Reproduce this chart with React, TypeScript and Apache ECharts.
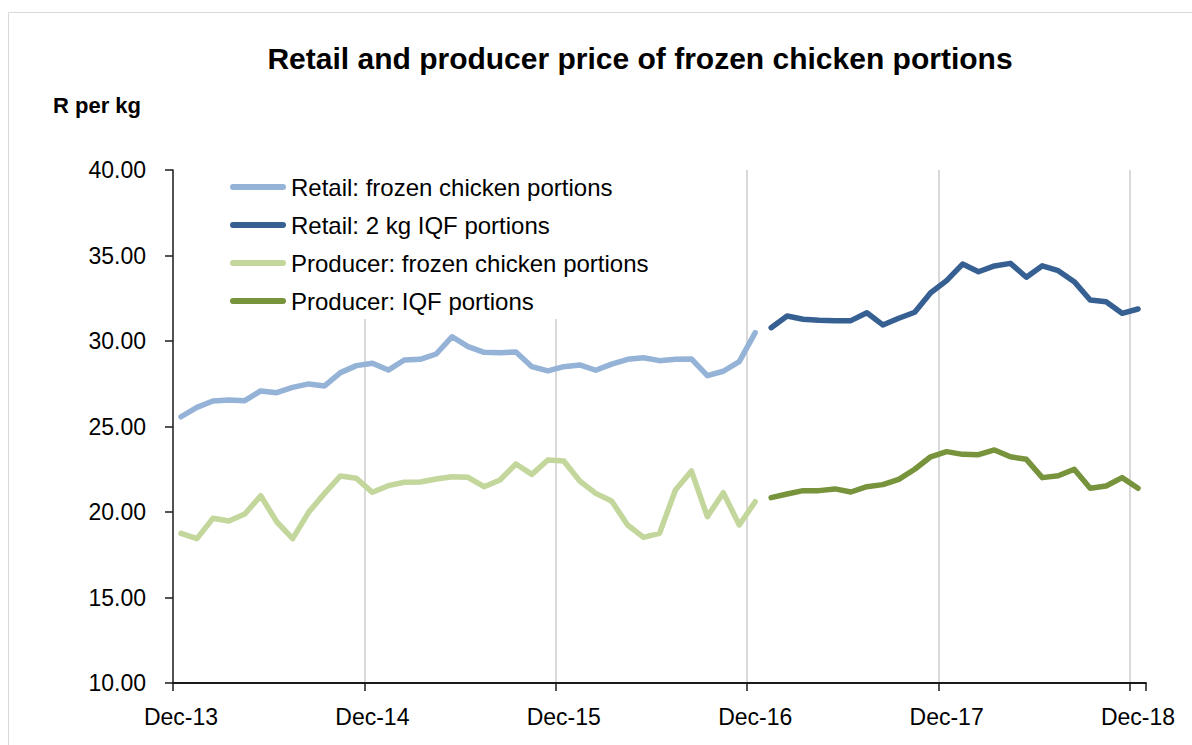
import React, { useEffect, useRef } from "react";
import * as echarts from "echarts";

const categories: string[] = [
  "Dec-13",
  "Jan-14", "Feb-14", "Mar-14", "Apr-14", "May-14", "Jun-14", "Jul-14", "Aug-14", "Sep-14", "Oct-14", "Nov-14", "Dec-14",
  "Jan-15", "Feb-15", "Mar-15", "Apr-15", "May-15", "Jun-15", "Jul-15", "Aug-15", "Sep-15", "Oct-15", "Nov-15", "Dec-15",
  "Jan-16", "Feb-16", "Mar-16", "Apr-16", "May-16", "Jun-16", "Jul-16", "Aug-16", "Sep-16", "Oct-16", "Nov-16", "Dec-16",
  "Jan-17", "Feb-17", "Mar-17", "Apr-17", "May-17", "Jun-17", "Jul-17", "Aug-17", "Sep-17", "Oct-17", "Nov-17", "Dec-17",
  "Jan-18", "Feb-18", "Mar-18", "Apr-18", "May-18", "Jun-18", "Jul-18", "Aug-18", "Sep-18", "Oct-18", "Nov-18", "Dec-18",
];

const tickLabels: string[] = ["Dec-13", "Dec-14", "Dec-15", "Dec-16", "Dec-17", "Dec-18"];

// Dec-13 .. Dec-16
const retailFrozen: number[] = [
  25.57, 26.12, 26.49, 26.55, 26.51, 27.08, 26.98, 27.29, 27.49, 27.37, 28.15, 28.56,
  28.7, 28.3, 28.89, 28.93, 29.24, 30.25, 29.67, 29.34, 29.32, 29.36, 28.5, 28.25,
  28.5, 28.6, 28.29, 28.65, 28.93, 29.02, 28.85, 28.93, 28.95, 27.97, 28.23, 28.79,
  30.49,
];

const producerFrozen: number[] = [
  18.75, 18.44, 19.63, 19.47, 19.88, 20.95, 19.43, 18.44, 19.98, 21.09, 22.11, 21.97,
  21.15, 21.54, 21.74, 21.75, 21.93, 22.06, 22.03, 21.48, 21.87, 22.81, 22.2, 23.04,
  22.98, 21.81, 21.09, 20.64, 19.24, 18.52, 18.75, 21.29, 22.4, 19.73, 21.13, 19.24,
  20.6,
];

// Jan-17 .. Dec-18
const retailIQF: number[] = [
  30.78, 31.46, 31.27, 31.21, 31.19, 31.19, 31.65, 30.94, 31.33, 31.68, 32.82, 33.53,
  34.5, 34.05, 34.39, 34.54, 33.73, 34.4, 34.11, 33.47, 32.4, 32.3, 31.62, 31.87,
];

const producerIQF: number[] = [
  20.84, 21.05, 21.25, 21.25, 21.35, 21.17, 21.48, 21.6, 21.91, 22.5, 23.23, 23.53,
  23.37, 23.35, 23.63, 23.23, 23.08, 22.01, 22.12, 22.5, 21.39, 21.52, 22.01, 21.39,
];

const seriesNames: string[] = [
  "Retail: frozen chicken portions",
  "Retail: 2 kg IQF portions",
  "Producer: frozen chicken portions",
  "Producer: IQF portions",
];

const colors: string[] = ["#95B3D7", "#376092", "#C3D69B", "#77933C"];

const FONT = "Liberation Sans, Arial, sans-serif";
const CAPSULE = "path://M3,0 L53,0 A3,3 0 0 1 53,6 L3,6 A3,3 0 0 1 3,0 Z";

function pairs(values: number[], startLabel: string): [string, number][] {
  const start = categories.indexOf(startLabel);
  return values.map((v, i) => [categories[start + i], v]);
}

export default function App() {
  const ref = useRef<HTMLDivElement>(null);

  useEffect(() => {
    if (!ref.current) return;
    const chart = echarts.init(ref.current, null, { renderer: "svg" });

    const data = [
      pairs(retailFrozen, "Dec-13"),
      pairs(retailIQF, "Jan-17"),
      pairs(producerFrozen, "Dec-13"),
      pairs(producerIQF, "Jan-17"),
    ];

    chart.setOption({
      animation: false,
      backgroundColor: "#ffffff",
      title: [
        {
          text: "Retail and producer price of frozen chicken portions",
          left: 640,
          top: 43,
          textAlign: "center",
          padding: 0,
          textStyle: { fontFamily: FONT, fontWeight: "bold", fontSize: 30, color: "#000000" },
        },
        {
          text: "R per kg",
          left: 53,
          top: 94,
          padding: 0,
          textStyle: { fontFamily: FONT, fontWeight: "bold", fontSize: 22, color: "#000000" },
        },
      ],
      graphic: [
        {
          type: "rect",
          silent: true,
          z: -10,
          shape: { x: 8.5, y: 12.5, width: 1300, height: 900 },
          style: { fill: "none", stroke: "#D9D9D9", lineWidth: 1 },
        },
      ],
      legend: {
        orient: "vertical",
        left: 225,
        top: 169,
        padding: [5, 10, 5, 5],
        backgroundColor: "#ffffff",
        itemWidth: 56,
        itemHeight: 6,
        itemGap: 12,
        icon: CAPSULE,
        data: seriesNames.map((name, i) => ({ name, itemStyle: { color: colors[i] } })),
        textStyle: { fontFamily: FONT, fontSize: 24, color: "#000000", lineHeight: 26 },
      },
      grid: { left: 173, right: 46, top: 170, bottom: 62, containLabel: false },
      xAxis: {
        type: "category",
        data: categories,
        boundaryGap: true,
        axisLine: { show: true, lineStyle: { color: "#1a1a1a", width: 1.8 } },
        axisTick: { show: true, interval: 11, length: 8, lineStyle: { color: "#1a1a1a", width: 1.5 } },
        axisLabel: {
          interval: 11,
          margin: 22,
          fontFamily: FONT,
          fontSize: 23,
          color: "#000000",
          formatter: (v: string) => (tickLabels.indexOf(v) >= 0 ? v : ""),
        },
        splitLine: {
          show: true,
          interval: 11,
          showMinLine: false,
          showMaxLine: false,
          lineStyle: { color: "#D9D9D9", width: 2 },
        },
      },
      yAxis: {
        type: "value",
        min: 10,
        max: 40,
        interval: 5,
        axisLine: { show: true, lineStyle: { color: "#1a1a1a", width: 1.5 } },
        axisTick: { show: true, length: 8, lineStyle: { color: "#1a1a1a", width: 1.5 } },
        axisLabel: {
          margin: 27,
          fontFamily: FONT,
          fontSize: 23,
          color: "#000000",
          formatter: (v: number) => v.toFixed(2),
        },
        splitLine: { show: false },
      },
      series: seriesNames.map((name, i) => ({
        name,
        type: "line",
        data: data[i],
        symbol: "none",
        showSymbol: false,
        connectNulls: false,
        color: colors[i],
        itemStyle: { color: colors[i] },
        lineStyle: { color: colors[i], width: 5.5, join: "round", cap: "round" },
        z: 3,
      })),
    });

    return () => chart.dispose();
  }, []);

  return (
    <div
      ref={ref}
      style={{ position: "absolute", left: 0, top: 0, width: 1192, height: 745, background: "#fff" }}
    />
  );
}
